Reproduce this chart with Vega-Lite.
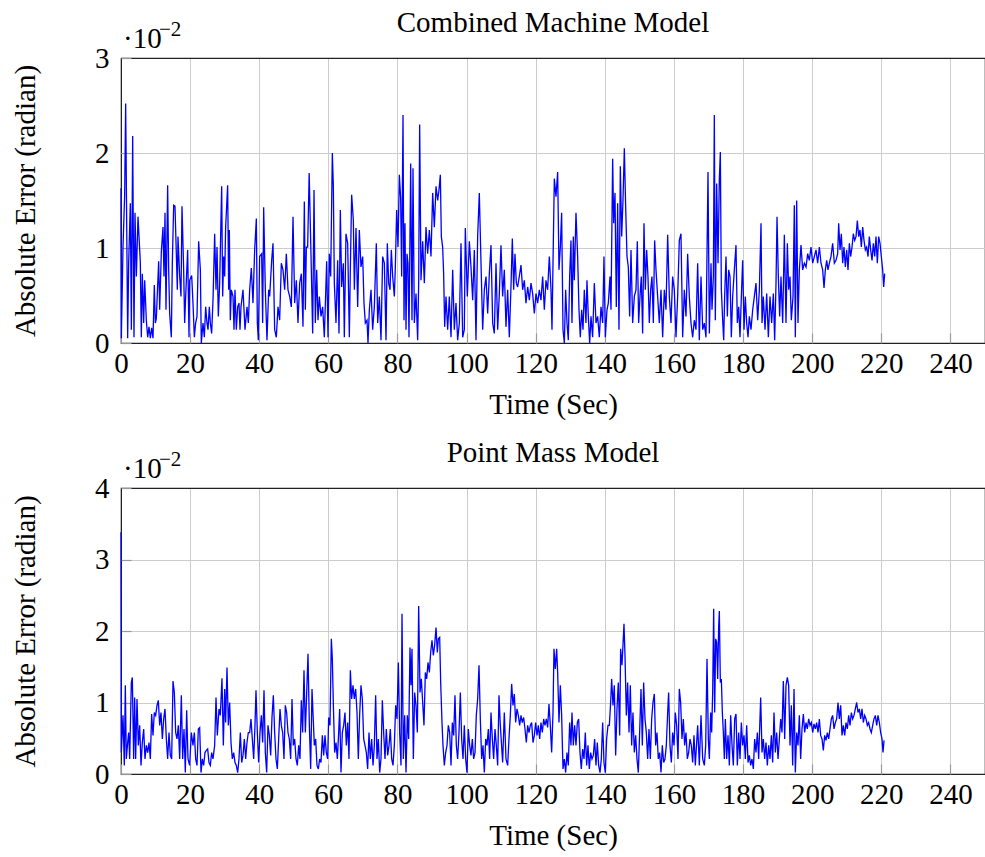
{
"$schema": "https://vega.github.io/schema/vega-lite/v6.json",
"background": "white",
"padding": {"left": 10, "top": 8, "right": 0, "bottom": 0},
"config": {
  "font": "Liberation Serif",
  "view": {"stroke": "#222222", "strokeWidth": 1.2},
  "axis": {"labelFont": "Liberation Serif", "labelFontSize": 29, "labelColor": "#000000", "titleFont": "Liberation Serif", "titleFontSize": 29, "titleFontWeight": "normal", "titleColor": "#000000", "gridWidth": 1, "ticks": true, "tickSize": -10, "tickColor": "#999999", "tickWidth": 1.2, "domain": false, "labelFlush": false, "labelOverlap": false, "format": "d"},
  "title": {"font": "Liberation Serif", "fontSize": 29, "fontWeight": "normal", "color": "#000000", "offset": -19, "frame": "group"},
  "concat": {"spacing": 18}
},
"datasets": {
"combined": [
{"t":0,"e":1.63},{"t":0.1,"e":0.05},{"t":0.58,"e":1.01},{"t":1.06,"e":1.56},{"t":1.35,"e":2.52},{"t":1.93,"e":0.05},{"t":2.22,"e":0.84},{"t":2.7,"e":1.47},{"t":3.0,"e":0.14},{"t":3.38,"e":2.18},{"t":3.76,"e":0.06},{"t":4.05,"e":1.37},{"t":4.44,"e":0.7},{"t":4.92,"e":1.33},{"t":5.59,"e":0.85},{"t":5.88,"e":0.06},{"t":6.17,"e":0.73},{"t":6.56,"e":0.21},{"t":6.85,"e":0.66},{"t":7.33,"e":0.24},{"t":7.72,"e":0.06},{"t":8.1,"e":0.17},{"t":8.49,"e":0.05},{"t":8.87,"e":0.16},{"t":9.26,"e":0.05},{"t":9.64,"e":0.61},{"t":9.93,"e":0.21},{"t":10.22,"e":0.26},{"t":10.9,"e":0.86},{"t":11.19,"e":0.35},{"t":11.67,"e":0.96},{"t":12.15,"e":1.22},{"t":12.44,"e":0.7},{"t":12.73,"e":1.37},{"t":13.02,"e":0.35},{"t":13.5,"e":1.66},{"t":13.79,"e":0.77},{"t":14.08,"e":0.31},{"t":14.56,"e":0.06},{"t":14.85,"e":0.84},{"t":15.24,"e":1.45},{"t":15.62,"e":1.44},{"t":16.01,"e":0.94},{"t":16.3,"e":0.56},{"t":16.49,"e":1.12},{"t":16.98,"e":0.7},{"t":17.36,"e":0.49},{"t":17.65,"e":1.44},{"t":18.13,"e":0.77},{"t":18.42,"e":0.21},{"t":18.71,"e":0.49},{"t":19.29,"e":0.98},{"t":19.68,"e":0.06},{"t":19.87,"e":0.66},{"t":20.45,"e":0.71},{"t":20.83,"e":0.42},{"t":21.22,"e":0.06},{"t":21.6,"e":0.21},{"t":21.99,"e":0.28},{"t":22.47,"e":1.07},{"t":22.96,"e":0.77},{"t":23.24,"e":0},{"t":23.73,"e":0.21},{"t":24.11,"e":0.06},{"t":24.5,"e":0.38},{"t":24.88,"e":0.21},{"t":25.17,"e":0.14},{"t":25.56,"e":0.38},{"t":25.85,"e":0.21},{"t":26.23,"e":0.1},{"t":26.62,"e":0.45},{"t":27.1,"e":1.15},{"t":27.49,"e":0.56},{"t":27.78,"e":1.01},{"t":28.16,"e":0.28},{"t":28.55,"e":0.63},{"t":29.13,"e":1.65},{"t":29.42,"e":0.49},{"t":29.71,"e":0.91},{"t":30.0,"e":0.7},{"t":30.28,"e":1.22},{"t":30.86,"e":1.66},{"t":31.15,"e":0.56},{"t":31.35,"e":1.19},{"t":31.63,"e":0.24},{"t":31.92,"e":0.56},{"t":32.41,"e":0.49},{"t":32.7,"e":0.14},{"t":32.98,"e":0.56},{"t":33.37,"e":0.14},{"t":33.76,"e":0.38},{"t":34.14,"e":0.42},{"t":34.43,"e":0.14},{"t":34.72,"e":0.38},{"t":35.3,"e":0.56},{"t":35.88,"e":0.14},{"t":36.46,"e":0.38},{"t":36.84,"e":0.21},{"t":37.23,"e":0.56},{"t":37.71,"e":0.79},{"t":38.19,"e":0.42},{"t":38.68,"e":0.98},{"t":39.16,"e":1.31},{"t":39.45,"e":0.21},{"t":39.74,"e":0.03},{"t":40.12,"e":0.91},{"t":40.7,"e":0.94},{"t":40.99,"e":0.21},{"t":41.28,"e":1.43},{"t":41.76,"e":0.56},{"t":42.24,"e":0.03},{"t":42.73,"e":0.56},{"t":43.02,"e":0.49},{"t":43.6,"e":0.87},{"t":43.98,"e":1.05},{"t":44.46,"e":0.14},{"t":44.94,"e":0.06},{"t":45.43,"e":0.38},{"t":45.91,"e":0.24},{"t":46.39,"e":0.84},{"t":46.87,"e":0.77},{"t":47.36,"e":0.56},{"t":47.84,"e":0.94},{"t":48.32,"e":0.56},{"t":48.8,"e":0.49},{"t":49.29,"e":0.38},{"t":49.77,"e":1.33},{"t":50.25,"e":0.42},{"t":50.73,"e":0.66},{"t":51.21,"e":0.21},{"t":51.7,"e":0.63},{"t":52.18,"e":0.73},{"t":52.66,"e":0.17},{"t":53.05,"e":1.49},{"t":53.34,"e":0.35},{"t":53.63,"e":1.01},{"t":54.01,"e":1.01},{"t":54.45,"e":1.79},{"t":55.07,"e":0.77},
{"t":55.46,"e":0.1},{"t":55.85,"e":1.61},{"t":56.23,"e":0.21},{"t":56.62,"e":0.77},{"t":57.0,"e":0.24},{"t":57.39,"e":0.49},{"t":57.87,"e":0.28},{"t":58.35,"e":0.38},{"t":58.83,"e":0.06},{"t":59.51,"e":0.86},{"t":59.9,"e":0.06},{"t":60.28,"e":0.94},{"t":60.67,"e":0.7},{"t":61.15,"e":2.0},{"t":61.44,"e":1.65},{"t":61.73,"e":0.63},{"t":62.21,"e":0.21},{"t":62.69,"e":0.87},{"t":63.08,"e":0.1},{"t":63.46,"e":1.4},{"t":63.85,"e":0.59},{"t":64.33,"e":0.84},{"t":64.62,"e":0.06},{"t":65.1,"e":1.15},{"t":65.59,"e":1.05},{"t":66.07,"e":0.06},{"t":66.36,"e":0.77},{"t":66.74,"e":1.56},{"t":67.23,"e":1.29},{"t":67.52,"e":0.56},{"t":68.0,"e":1.21},{"t":68.48,"e":0.38},{"t":68.96,"e":1.19},{"t":69.44,"e":0.8},{"t":69.93,"e":0.91},{"t":70.31,"e":0.42},{"t":70.7,"e":0.21},{"t":71.18,"e":0.24},{"t":71.47,"e":0},{"t":71.86,"e":0.35},{"t":72.34,"e":0.56},{"t":72.82,"e":0.14},{"t":73.3,"e":0.38},{"t":73.88,"e":1.05},{"t":74.27,"e":0.21},{"t":74.75,"e":0.49},{"t":75.23,"e":0.03},{"t":75.71,"e":0.91},{"t":76.2,"e":0.84},{"t":76.68,"e":0.03},{"t":77.06,"e":1.05},{"t":77.45,"e":0.63},{"t":77.84,"e":0.56},{"t":78.22,"e":0.98},{"t":78.61,"e":0.7},{"t":79.09,"e":0.49},{"t":79.38,"e":0.8},{"t":79.76,"e":1.4},{"t":80.15,"e":1.01},{"t":80.54,"e":1.77},{"t":80.92,"e":1.52},{"t":81.21,"e":0.7},{"t":81.6,"e":2.4},{"t":81.89,"e":0.24},{"t":82.17,"e":1.26},{"t":82.47,"e":0.14},{"t":82.75,"e":0.94},{"t":83.04,"e":0.84},{"t":83.33,"e":0.06},{"t":83.82,"e":1.89},{"t":84.2,"e":0.24},{"t":84.49,"e":1.84},{"t":84.88,"e":0.21},{"t":85.36,"e":0.52},{"t":85.84,"e":0.03},{"t":86.13,"e":0.63},{"t":86.42,"e":2.3},{"t":86.8,"e":0.66},{"t":87.29,"e":1.07},{"t":87.77,"e":0.63},{"t":88.25,"e":1.22},{"t":88.73,"e":0.94},{"t":89.22,"e":1.19},{"t":89.7,"e":0.91},{"t":90.18,"e":1.58},{"t":90.66,"e":1.22},{"t":91.15,"e":1.65},{"t":91.63,"e":1.5},{"t":92.01,"e":1.61},{"t":92.4,"e":1.77},{"t":92.69,"e":1.12},{"t":93.07,"e":1.01},{"t":93.36,"e":0.73},{"t":93.65,"e":0.17},{"t":94.04,"e":0.49},{"t":94.52,"e":0.14},{"t":95.0,"e":0.49},{"t":95.49,"e":0.06},{"t":95.97,"e":0.77},{"t":96.45,"e":0.14},{"t":96.93,"e":0.42},{"t":97.41,"e":0.03},{"t":97.9,"e":0.21},{"t":98.38,"e":1.05},{"t":98.86,"e":0.06},{"t":99.34,"e":0.14},{"t":99.63,"e":1.21},{"t":100.21,"e":0.49},{"t":100.79,"e":1.07},{"t":101.27,"e":0.8},{"t":101.76,"e":0.45},{"t":102.24,"e":0.98},{"t":102.72,"e":0.03},{"t":103.2,"e":1.12},{"t":103.68,"e":1.58},{"t":104.17,"e":0.84},{"t":104.65,"e":0.14},{"t":105.13,"e":0.56},{"t":105.61,"e":0.7},{"t":106.1,"e":0.31},{"t":106.58,"e":0.73},{"t":107.06,"e":1.03},{"t":107.54,"e":0.21},{"t":108.02,"e":0.1},{"t":108.51,"e":0.84},{"t":108.99,"e":0.14},{"t":109.47,"e":0.52},{"t":109.95,"e":1.03},
{"t":110.43,"e":0.49},{"t":110.91,"e":0.77},{"t":111.4,"e":0.17},{"t":111.88,"e":0.56},{"t":112.36,"e":0.06},{"t":112.84,"e":0.59},{"t":113.23,"e":1.1},{"t":113.62,"e":0.56},{"t":114.0,"e":0.94},{"t":114.39,"e":0.63},{"t":114.77,"e":0.59},{"t":115.25,"e":0.7},{"t":115.74,"e":0.82},{"t":116.22,"e":0.56},{"t":116.7,"e":0.66},{"t":117.18,"e":0.42},{"t":117.67,"e":0.59},{"t":118.15,"e":0.45},{"t":118.63,"e":0.63},{"t":119.11,"e":0.52},{"t":119.6,"e":0.31},{"t":120.08,"e":0.52},{"t":120.56,"e":0.42},{"t":121.04,"e":0.56},{"t":121.52,"e":0.45},{"t":122.01,"e":0.7},{"t":122.49,"e":0.35},{"t":122.97,"e":0.66},{"t":123.45,"e":0.56},{"t":123.94,"e":0.91},{"t":124.42,"e":0.56},{"t":124.71,"e":0.14},{"t":125.0,"e":0.84},{"t":125.38,"e":1.73},{"t":125.86,"e":1.54},{"t":126.35,"e":1.8},{"t":126.73,"e":0.77},{"t":127.12,"e":1.01},{"t":127.5,"e":1.37},{"t":127.89,"e":0.14},{"t":128.28,"e":0},{"t":128.66,"e":0.56},{"t":129.05,"e":0.21},{"t":129.43,"e":0.03},{"t":129.82,"e":0.7},{"t":130.2,"e":1.08},{"t":130.49,"e":0.21},{"t":130.88,"e":1.12},{"t":131.17,"e":0.66},{"t":131.65,"e":1.37},{"t":132.13,"e":0.91},{"t":132.52,"e":0.35},{"t":132.9,"e":0.06},{"t":133.29,"e":0.35},{"t":133.68,"e":0.14},{"t":134.06,"e":0.56},{"t":134.54,"e":0.21},{"t":134.83,"e":0.66},{"t":135.22,"e":0.28},{"t":135.61,"e":0},{"t":135.99,"e":0.28},{"t":136.47,"e":0.06},{"t":136.96,"e":0.63},{"t":137.44,"e":0.21},{"t":137.92,"e":0.28},{"t":138.4,"e":0.06},{"t":138.89,"e":0.38},{"t":139.37,"e":0.21},{"t":139.75,"e":0.91},{"t":140.14,"e":0.06},{"t":140.62,"e":0.35},{"t":141.01,"e":0.42},{"t":141.49,"e":0.7},{"t":141.78,"e":0.35},{"t":142.26,"e":1.94},{"t":142.55,"e":1.26},{"t":142.94,"e":1.58},{"t":143.32,"e":0.38},{"t":143.71,"e":1.47},{"t":144.09,"e":0.14},{"t":144.48,"e":1.86},{"t":144.87,"e":1.12},{"t":145.25,"e":1.5},{"t":145.64,"e":2.05},{"t":146.02,"e":1.44},{"t":146.41,"e":0.91},{"t":146.79,"e":0.8},{"t":147.18,"e":0.28},{"t":147.57,"e":0.98},{"t":148.05,"e":0.21},{"t":148.53,"e":0.49},{"t":149.01,"e":0.56},{"t":149.4,"e":1.07},{"t":149.78,"e":0.21},{"t":150.17,"e":0.49},{"t":150.55,"e":0.7},{"t":150.94,"e":0.1},{"t":151.33,"e":1.26},{"t":151.71,"e":0.56},{"t":152.1,"e":0.98},{"t":152.48,"e":0.7},{"t":152.87,"e":0.21},{"t":153.26,"e":0.56},{"t":153.64,"e":0.7},{"t":154.03,"e":0.21},{"t":154.41,"e":1.08},{"t":154.8,"e":0.77},{"t":155.28,"e":0.49},{"t":155.76,"e":0.21},{"t":156.25,"e":0.56},{"t":156.73,"e":0.06},{"t":157.21,"e":0.56},{"t":157.69,"e":0.35},{"t":158.18,"e":1.14},{"t":158.66,"e":0.49},{"t":159.14,"e":0.21},{"t":159.62,"e":0.7},{"t":160.1,"e":0.56},{"t":160.59,"e":0.06},{"t":161.07,"e":0.49},{"t":161.55,"e":1.08},{"t":162.03,"e":1.15},{"t":162.52,"e":0.06},{"t":163.0,"e":0.56},{"t":163.48,"e":0.28},{"t":163.96,"e":0.94},{"t":164.44,"e":0.49},{"t":164.93,"e":0.21},{"t":165.41,"e":0.06},{"t":165.89,"e":0.24},{"t":166.37,"e":0.14},
{"t":166.86,"e":0.84},{"t":167.34,"e":0.03},{"t":167.83,"e":0.7},{"t":168.31,"e":0.14},{"t":168.79,"e":0.21},{"t":169.27,"e":0.06},{"t":169.85,"e":1.8},{"t":170.24,"e":0.1},{"t":170.72,"e":0.84},{"t":171.01,"e":0.35},{"t":171.4,"e":0.7},{"t":171.68,"e":2.4},{"t":171.97,"e":0.24},{"t":172.36,"e":1.68},{"t":172.75,"e":0.84},{"t":173.13,"e":1.72},{"t":173.42,"e":2.01},{"t":173.71,"e":0.56},{"t":174.1,"e":0.24},{"t":174.39,"e":0.03},{"t":174.67,"e":0.49},{"t":175.06,"e":0.91},{"t":175.45,"e":0.28},{"t":175.83,"e":0.77},{"t":176.22,"e":0.7},{"t":176.6,"e":0.06},{"t":176.99,"e":0.49},{"t":177.47,"e":0.77},{"t":177.95,"e":1.03},{"t":178.34,"e":0.21},{"t":178.73,"e":0.38},{"t":179.11,"e":0.06},{"t":179.5,"e":0.49},{"t":179.88,"e":0.87},{"t":180.27,"e":0.14},{"t":180.65,"e":0.49},{"t":181.04,"e":0.21},{"t":181.43,"e":0.06},{"t":181.81,"e":0.28},{"t":182.29,"e":0.14},{"t":182.78,"e":0.35},{"t":183.26,"e":0.49},{"t":183.74,"e":0.63},{"t":184.22,"e":0.24},{"t":184.71,"e":0.56},{"t":185.19,"e":1.26},{"t":185.48,"e":0.21},{"t":185.86,"e":0.49},{"t":186.35,"e":0.14},{"t":186.83,"e":0.52},{"t":187.31,"e":0.06},{"t":187.79,"e":0.49},{"t":188.27,"e":0.21},{"t":188.76,"e":0.52},{"t":189.14,"e":0.03},{"t":189.53,"e":0.63},{"t":189.82,"e":1.33},{"t":190.2,"e":0.7},{"t":190.59,"e":0.28},{"t":190.97,"e":0.7},{"t":191.46,"e":0.21},{"t":191.94,"e":1.14},{"t":192.42,"e":0.21},{"t":192.81,"e":1.05},{"t":193.19,"e":0.56},{"t":193.58,"e":0.7},{"t":193.96,"e":0.24},{"t":194.45,"e":0.49},{"t":194.83,"e":1.45},{"t":195.12,"e":0.06},{"t":195.51,"e":1.5},{"t":195.89,"e":0.21},{"t":196.28,"e":0.77},{"t":196.76,"e":1.03},{"t":197.24,"e":0.77},{"t":197.73,"e":0.84},{"t":198.21,"e":0.8},{"t":198.69,"e":0.94},{"t":199.17,"e":0.87},{"t":199.65,"e":1.01},{"t":200.14,"e":0.84},{"t":200.62,"e":0.91},{"t":201.1,"e":0.98},{"t":201.58,"e":0.84},{"t":202.07,"e":1.01},{"t":202.55,"e":0.84},{"t":203.03,"e":0.77},{"t":203.42,"e":0.58},{"t":203.8,"e":0.77},{"t":204.19,"e":0.87},{"t":204.57,"e":0.77},{"t":204.96,"e":0.84},{"t":205.44,"e":0.91},{"t":205.92,"e":1.05},{"t":206.41,"e":0.84},{"t":206.89,"e":0.87},{"t":207.37,"e":0.94},{"t":207.66,"e":1.26},{"t":208.05,"e":0.98},{"t":208.43,"e":1.15},{"t":208.82,"e":0.84},{"t":209.2,"e":1.01},{"t":209.59,"e":0.8},{"t":209.98,"e":0.98},{"t":210.36,"e":0.77},{"t":210.75,"e":1.05},{"t":211.13,"e":0.91},{"t":211.52,"e":1.01},{"t":211.9,"e":1.15},{"t":212.29,"e":1.08},{"t":212.68,"e":1.12},{"t":213.06,"e":1.29},{"t":213.45,"e":1.12},{"t":213.83,"e":1.19},{"t":214.22,"e":1.01},{"t":214.61,"e":1.22},{"t":214.99,"e":1.08},{"t":215.38,"e":0.98},{"t":215.76,"e":1.01},{"t":216.15,"e":0.91},{"t":216.53,"e":1.12},{"t":216.92,"e":0.98},{"t":217.31,"e":0.87},{"t":217.69,"e":1.05},{"t":218.08,"e":0.91},{"t":218.46,"e":1.12},{"t":218.85,"e":0.84},{"t":219.23,"e":1.12},{"t":219.62,"e":1.05},{"t":220.0,"e":0.91},{"t":220.39,"e":0.77},{"t":220.68,"e":0.59},{"t":220.97,"e":0.73}
],
"pointmass": [
{"t":0,"e":3.38},{"t":0.1,"e":0.3},{"t":0.58,"e":0.82},{"t":0.96,"e":0.12},{"t":1.25,"e":1.24},{"t":1.54,"e":0.21},{"t":1.93,"e":0.44},{"t":2.22,"e":0.58},{"t":2.51,"e":0.21},{"t":2.99,"e":1.28},{"t":3.28,"e":1.35},{"t":3.66,"e":0.21},{"t":3.95,"e":1.07},{"t":4.24,"e":0.21},{"t":4.63,"e":1.05},{"t":5.02,"e":0.4},{"t":5.4,"e":0.68},{"t":5.79,"e":0.12},{"t":6.17,"e":0.44},{"t":6.56,"e":0.63},{"t":6.94,"e":0.21},{"t":7.33,"e":0.4},{"t":7.72,"e":0.3},{"t":8.1,"e":0.44},{"t":8.49,"e":0.21},{"t":8.87,"e":0.84},{"t":9.26,"e":0.54},{"t":9.64,"e":0.86},{"t":10.03,"e":0.82},{"t":10.42,"e":0.96},{"t":10.8,"e":1.03},{"t":11.19,"e":0.68},{"t":11.57,"e":0.86},{"t":11.96,"e":0.49},{"t":12.35,"e":0.77},{"t":12.73,"e":0.91},{"t":13.12,"e":0.49},{"t":13.5,"e":0.21},{"t":13.89,"e":0.58},{"t":14.27,"e":0.26},{"t":14.66,"e":0.21},{"t":15.05,"e":1.3},{"t":15.43,"e":1.14},{"t":15.82,"e":0.58},{"t":16.2,"e":0.49},{"t":16.59,"e":0.68},{"t":16.98,"e":0.21},{"t":17.46,"e":1.1},{"t":17.84,"e":0.21},{"t":18.23,"e":0.63},{"t":18.61,"e":0.02},{"t":19.0,"e":0.89},{"t":19.39,"e":0.21},{"t":19.87,"e":0.12},{"t":20.35,"e":0.58},{"t":20.83,"e":0.4},{"t":21.22,"e":0.58},{"t":21.6,"e":0.21},{"t":21.99,"e":0.12},{"t":22.38,"e":0.63},{"t":22.76,"e":0.65},{"t":23.15,"e":0.02},{"t":23.53,"e":0.21},{"t":23.92,"e":0.12},{"t":24.31,"e":0.3},{"t":24.69,"e":0.33},{"t":25.08,"e":0.35},{"t":25.46,"e":0.16},{"t":25.85,"e":0.12},{"t":26.23,"e":0.3},{"t":26.62,"e":0.21},{"t":27.1,"e":0.4},{"t":27.49,"e":1.07},{"t":27.87,"e":0.54},{"t":28.36,"e":0.91},{"t":28.74,"e":0.82},{"t":29.22,"e":1.34},{"t":29.61,"e":0.4},{"t":30.0,"e":1.19},{"t":30.28,"e":0.72},{"t":30.67,"e":1.49},{"t":31.06,"e":0.68},{"t":31.44,"e":1.0},{"t":31.83,"e":0.44},{"t":32.21,"e":0.21},{"t":32.6,"e":0.3},{"t":32.99,"e":0.16},{"t":33.37,"e":0.12},{"t":33.76,"e":0.02},{"t":34.14,"e":0.21},{"t":34.53,"e":0.58},{"t":34.92,"e":0.16},{"t":35.3,"e":0.26},{"t":35.69,"e":0.49},{"t":36.07,"e":0.21},{"t":36.46,"e":0.44},{"t":36.84,"e":0.58},{"t":37.23,"e":0.58},{"t":37.61,"e":0.77},{"t":38.0,"e":0.49},{"t":38.39,"e":0.21},{"t":38.77,"e":0.68},{"t":39.06,"e":1.17},{"t":39.45,"e":0.58},{"t":39.83,"e":0.16},{"t":40.22,"e":0.58},{"t":40.61,"e":0.82},{"t":40.99,"e":0.44},{"t":41.38,"e":1.17},{"t":41.76,"e":0.3},{"t":42.15,"e":0.02},{"t":42.53,"e":0.68},{"t":42.92,"e":0.54},{"t":43.31,"e":0.26},{"t":43.69,"e":0.79},{"t":44.08,"e":1.1},{"t":44.46,"e":0.58},{"t":44.85,"e":0.21},{"t":45.24,"e":0.07},{"t":45.62,"e":0.49},{"t":46.01,"e":0.91},{"t":46.39,"e":0.68},{"t":46.78,"e":0.58},{"t":47.16,"e":0.21},{"t":47.55,"e":0.96},{"t":47.93,"e":0.86},{"t":48.32,"e":0.58},{"t":48.71,"e":0.49},{"t":49.09,"e":0.21},{"t":49.48,"e":1.05},{"t":49.86,"e":0.4},{"t":50.25,"e":0.49},{"t":50.64,"e":0.21},{"t":51.02,"e":0.12},{"t":51.41,"e":0.4},{"t":51.79,"e":0.21},{"t":52.18,"e":1.03},{"t":52.56,"e":0.58},{"t":52.95,"e":1.45},{"t":53.34,"e":0.58},{"t":53.72,"e":1.12},{"t":54.11,"e":1.68},{"t":54.5,"e":0.68},{"t":54.88,"e":0.07},{"t":55.27,"e":1.19},
{"t":55.94,"e":0.4},{"t":56.33,"e":0.49},{"t":56.71,"e":0.12},{"t":57.1,"e":0.07},{"t":57.48,"e":0.21},{"t":57.87,"e":0.16},{"t":58.26,"e":0.54},{"t":58.64,"e":0.26},{"t":59.03,"e":0.54},{"t":59.41,"e":0.3},{"t":59.8,"e":0.21},{"t":60.09,"e":0.79},{"t":60.47,"e":0.68},{"t":60.86,"e":1.89},{"t":61.15,"e":1.61},{"t":61.44,"e":0.98},{"t":61.82,"e":0.3},{"t":62.21,"e":0.44},{"t":62.6,"e":0.21},{"t":62.98,"e":0.58},{"t":63.27,"e":0.91},{"t":63.66,"e":0.02},{"t":64.04,"e":0.58},{"t":64.43,"e":0.68},{"t":64.81,"e":0.86},{"t":65.2,"e":0.4},{"t":65.59,"e":0.72},{"t":65.97,"e":0.21},{"t":66.36,"e":1.45},{"t":66.74,"e":1.05},{"t":67.13,"e":1.24},{"t":67.51,"e":1.05},{"t":67.9,"e":1.19},{"t":68.29,"e":0.86},{"t":68.67,"e":0.21},{"t":69.06,"e":0.84},{"t":69.44,"e":1.24},{"t":69.83,"e":1.05},{"t":70.22,"e":0.49},{"t":70.6,"e":0.4},{"t":70.99,"e":0.3},{"t":71.37,"e":0.07},{"t":71.76,"e":0.58},{"t":72.14,"e":0.21},{"t":72.53,"e":0.49},{"t":72.92,"e":0.12},{"t":73.3,"e":0.4},{"t":73.69,"e":1.1},{"t":74.07,"e":0.21},{"t":74.46,"e":0.49},{"t":74.85,"e":0.02},{"t":75.23,"e":0.21},{"t":75.62,"e":1.03},{"t":76.0,"e":0.58},{"t":76.39,"e":0.21},{"t":76.77,"e":0.63},{"t":77.16,"e":0.26},{"t":77.55,"e":0.4},{"t":77.93,"e":0.63},{"t":78.32,"e":0.21},{"t":78.7,"e":0.12},{"t":79.09,"e":0.4},{"t":79.48,"e":0.96},{"t":79.86,"e":0.77},{"t":80.25,"e":1.56},{"t":80.63,"e":0.58},{"t":81.02,"e":0.12},{"t":81.31,"e":2.24},{"t":81.69,"e":0.21},{"t":82.08,"e":0.82},{"t":82.47,"e":0.02},{"t":82.85,"e":0.82},{"t":83.24,"e":0.49},{"t":83.62,"e":1.77},{"t":83.91,"e":1.24},{"t":84.2,"e":1.75},{"t":84.59,"e":0.21},{"t":84.97,"e":1.14},{"t":85.36,"e":0.96},{"t":85.75,"e":0.58},{"t":86.13,"e":2.35},{"t":86.52,"e":1.14},{"t":86.9,"e":1.33},{"t":87.29,"e":1.0},{"t":87.67,"e":0.68},{"t":88.06,"e":1.42},{"t":88.45,"e":1.33},{"t":88.83,"e":1.56},{"t":89.22,"e":1.42},{"t":89.6,"e":1.7},{"t":89.99,"e":1.87},{"t":90.37,"e":1.66},{"t":90.76,"e":1.8},{"t":91.15,"e":2.05},{"t":91.53,"e":1.7},{"t":91.82,"e":1.89},{"t":92.21,"e":1.91},{"t":92.5,"e":1.28},{"t":92.88,"e":0.72},{"t":93.17,"e":0.4},{"t":93.56,"e":0.12},{"t":93.94,"e":0.3},{"t":94.33,"e":0.4},{"t":94.71,"e":0.68},{"t":95.1,"e":0.58},{"t":95.49,"e":0.12},{"t":95.87,"e":0.72},{"t":96.26,"e":0.54},{"t":96.64,"e":1.1},{"t":97.03,"e":0.4},{"t":97.41,"e":0.21},{"t":97.8,"e":0.58},{"t":98.19,"e":1.14},{"t":98.57,"e":0.49},{"t":98.96,"e":0.21},{"t":99.34,"e":0.68},{"t":99.73,"e":0.21},{"t":100.11,"e":0.02},{"t":100.5,"e":0.63},{"t":100.89,"e":0.4},{"t":101.27,"e":0.26},{"t":101.66,"e":0.49},{"t":102.04,"e":0.21},{"t":102.43,"e":0.3},{"t":102.81,"e":0.82},{"t":103.2,"e":1.05},{"t":103.59,"e":1.52},{"t":103.97,"e":0.77},{"t":104.36,"e":0.21},{"t":104.74,"e":0.4},{"t":105.13,"e":0.02},{"t":105.52,"e":0.49},{"t":105.9,"e":0.4},{"t":106.29,"e":0.63},{"t":106.67,"e":0.21},{"t":107.06,"e":0.86},{"t":107.45,"e":0.49},{"t":107.83,"e":0.21},{"t":108.22,"e":0.63},{"t":108.6,"e":0.4},{"t":108.99,"e":0.12},{"t":109.37,"e":1.1},{"t":109.76,"e":0.68},
{"t":110.43,"e":0.16},{"t":110.91,"e":0.86},{"t":111.4,"e":0.21},{"t":111.88,"e":0.12},{"t":112.26,"e":0.49},{"t":112.65,"e":0.82},{"t":113.04,"e":1.26},{"t":113.42,"e":0.96},{"t":113.81,"e":1.12},{"t":114.19,"e":0.72},{"t":114.58,"e":0.91},{"t":114.97,"e":0.82},{"t":115.35,"e":0.68},{"t":115.74,"e":0.82},{"t":116.12,"e":0.72},{"t":116.51,"e":0.79},{"t":116.89,"e":0.63},{"t":117.28,"e":0.44},{"t":117.67,"e":0.68},{"t":118.05,"e":0.58},{"t":118.44,"e":0.68},{"t":118.82,"e":0.72},{"t":119.21,"e":0.44},{"t":119.6,"e":0.54},{"t":119.98,"e":0.72},{"t":120.37,"e":0.54},{"t":120.75,"e":0.68},{"t":121.14,"e":0.49},{"t":121.52,"e":0.72},{"t":121.91,"e":0.58},{"t":122.3,"e":0.77},{"t":122.68,"e":0.68},{"t":123.07,"e":0.77},{"t":123.45,"e":0.65},{"t":123.84,"e":0.98},{"t":124.22,"e":0.68},{"t":124.61,"e":0.3},{"t":125.0,"e":0.86},{"t":125.28,"e":1.75},{"t":125.67,"e":1.47},{"t":126.06,"e":1.75},{"t":126.35,"e":1.42},{"t":126.73,"e":0.72},{"t":127.12,"e":1.24},{"t":127.5,"e":0.82},{"t":127.89,"e":0.07},{"t":128.28,"e":0.21},{"t":128.66,"e":0.02},{"t":129.05,"e":0.3},{"t":129.43,"e":0.12},{"t":129.82,"e":0.72},{"t":130.2,"e":0.4},{"t":130.49,"e":0.86},{"t":130.88,"e":0.4},{"t":131.27,"e":0.68},{"t":131.65,"e":0.4},{"t":132.04,"e":0.72},{"t":132.42,"e":0.77},{"t":132.81,"e":0.3},{"t":133.19,"e":0.07},{"t":133.58,"e":0.35},{"t":133.97,"e":0.21},{"t":134.35,"e":0.58},{"t":134.74,"e":0.12},{"t":135.12,"e":0.4},{"t":135.51,"e":0.07},{"t":135.89,"e":0.3},{"t":136.28,"e":0.21},{"t":136.67,"e":0.26},{"t":137.05,"e":0.49},{"t":137.44,"e":0.12},{"t":137.82,"e":0.44},{"t":138.21,"e":0.12},{"t":138.6,"e":0.02},{"t":138.98,"e":0.21},{"t":139.37,"e":0.72},{"t":139.75,"e":0.16},{"t":140.14,"e":0.02},{"t":140.52,"e":0.49},{"t":140.91,"e":0.68},{"t":141.3,"e":0.68},{"t":141.68,"e":1.0},{"t":141.97,"e":1.33},{"t":142.36,"e":0.96},{"t":142.74,"e":1.24},{"t":143.13,"e":0.26},{"t":143.51,"e":0.91},{"t":143.9,"e":1.28},{"t":144.29,"e":0.54},{"t":144.57,"e":1.75},{"t":144.96,"e":1.52},{"t":145.25,"e":1.8},{"t":145.54,"e":2.1},{"t":145.83,"e":1.66},{"t":146.22,"e":0.82},{"t":146.6,"e":1.28},{"t":146.99,"e":0.58},{"t":147.37,"e":1.24},{"t":147.76,"e":0.4},{"t":148.14,"e":0.86},{"t":148.53,"e":0.3},{"t":148.92,"e":0.54},{"t":149.3,"e":0.21},{"t":149.69,"e":0.02},{"t":150.07,"e":0.58},{"t":150.46,"e":1.19},{"t":150.85,"e":0.4},{"t":151.23,"e":1.28},{"t":151.62,"e":0.77},{"t":152.0,"e":0.58},{"t":152.39,"e":0.21},{"t":152.77,"e":0.63},{"t":153.16,"e":0.21},{"t":153.55,"e":0.77},{"t":153.93,"e":1.0},{"t":154.32,"e":1.12},{"t":154.7,"e":0.4},{"t":155.09,"e":0.58},{"t":155.47,"e":0.21},{"t":155.86,"e":0.3},{"t":156.25,"e":0.02},{"t":156.63,"e":0.4},{"t":157.02,"e":0.16},{"t":157.4,"e":0.21},{"t":157.79,"e":0.4},{"t":158.18,"e":0.86},{"t":158.46,"e":1.14},{"t":158.85,"e":0.4},{"t":159.24,"e":0.16},{"t":159.62,"e":0.58},{"t":160.01,"e":0.4},{"t":160.39,"e":0.86},{"t":160.78,"e":0.68},{"t":161.17,"e":0.21},{"t":161.55,"e":1.19},{"t":161.94,"e":1.0},{"t":162.32,"e":0.49},{"t":162.71,"e":0.77},{"t":163.09,"e":0.4},{"t":163.48,"e":0.58},{"t":163.87,"e":0.21},{"t":164.25,"e":0.3},{"t":164.64,"e":0.49},{"t":165.02,"e":0.4},{"t":165.41,"e":0.16},{"t":165.79,"e":0.54},{"t":166.18,"e":0.12},
{"t":166.86,"e":0.68},{"t":167.34,"e":0.12},{"t":167.83,"e":0.82},{"t":168.31,"e":0.21},{"t":168.79,"e":0.12},{"t":169.18,"e":0.4},{"t":169.56,"e":1.61},{"t":169.95,"e":0.49},{"t":170.24,"e":0.21},{"t":170.62,"e":0.86},{"t":170.91,"e":0.58},{"t":171.2,"e":1.14},{"t":171.49,"e":2.31},{"t":171.78,"e":0.86},{"t":172.07,"e":1.89},{"t":172.36,"e":1.84},{"t":172.65,"e":1.33},{"t":172.94,"e":2.07},{"t":173.13,"e":2.28},{"t":173.42,"e":1.28},{"t":173.71,"e":1.33},{"t":174.0,"e":0.86},{"t":174.29,"e":0.58},{"t":174.58,"e":0.21},{"t":174.87,"e":0.77},{"t":175.25,"e":0.21},{"t":175.64,"e":0.54},{"t":176.03,"e":0.12},{"t":176.41,"e":0.82},{"t":176.8,"e":0.4},{"t":177.18,"e":0.12},{"t":177.57,"e":0.77},{"t":177.95,"e":0.84},{"t":178.34,"e":0.12},{"t":178.73,"e":0.58},{"t":179.11,"e":0.21},{"t":179.5,"e":0.72},{"t":179.88,"e":0.4},{"t":180.27,"e":0.54},{"t":180.65,"e":0.21},{"t":181.04,"e":0.68},{"t":181.43,"e":0.16},{"t":181.81,"e":0.26},{"t":182.2,"e":0.12},{"t":182.58,"e":0.21},{"t":182.97,"e":0.07},{"t":183.35,"e":0.49},{"t":183.74,"e":0.3},{"t":184.13,"e":0.58},{"t":184.51,"e":0.21},{"t":185.09,"e":1.07},{"t":185.48,"e":0.3},{"t":185.86,"e":0.49},{"t":186.25,"e":0.21},{"t":186.63,"e":0.44},{"t":187.02,"e":0.12},{"t":187.41,"e":0.4},{"t":187.79,"e":0.21},{"t":188.18,"e":0.54},{"t":188.56,"e":0.16},{"t":188.95,"e":0.86},{"t":189.33,"e":0.3},{"t":189.72,"e":0.58},{"t":190.11,"e":0.21},{"t":190.49,"e":0.49},{"t":190.88,"e":0.77},{"t":191.26,"e":0.58},{"t":191.65,"e":1.3},{"t":192.04,"e":0.49},{"t":192.42,"e":1.24},{"t":192.81,"e":1.35},{"t":193.19,"e":1.24},{"t":193.58,"e":0.4},{"t":193.96,"e":0.96},{"t":194.35,"e":0.12},{"t":194.74,"e":1.19},{"t":195.12,"e":0.02},{"t":195.51,"e":0.58},{"t":195.89,"e":0.4},{"t":196.28,"e":0.82},{"t":196.66,"e":0.21},{"t":197.05,"e":0.63},{"t":197.44,"e":0.84},{"t":197.82,"e":0.58},{"t":198.21,"e":0.72},{"t":198.59,"e":0.63},{"t":198.98,"e":0.77},{"t":199.37,"e":0.68},{"t":199.75,"e":0.72},{"t":200.14,"e":0.58},{"t":200.52,"e":0.7},{"t":200.91,"e":0.63},{"t":201.29,"e":0.72},{"t":201.68,"e":0.58},{"t":202.07,"e":0.77},{"t":202.45,"e":0.54},{"t":202.84,"e":0.49},{"t":203.22,"e":0.33},{"t":203.61,"e":0.54},{"t":203.99,"e":0.47},{"t":204.38,"e":0.58},{"t":204.77,"e":0.49},{"t":205.15,"e":0.63},{"t":205.54,"e":0.77},{"t":205.92,"e":0.82},{"t":206.31,"e":0.63},{"t":206.7,"e":0.72},{"t":207.08,"e":0.77},{"t":207.47,"e":1.0},{"t":207.85,"e":0.77},{"t":208.24,"e":0.96},{"t":208.62,"e":0.54},{"t":209.01,"e":0.68},{"t":209.4,"e":0.54},{"t":209.78,"e":0.72},{"t":210.17,"e":0.63},{"t":210.55,"e":0.82},{"t":210.94,"e":0.68},{"t":211.33,"e":0.86},{"t":211.71,"e":0.77},{"t":212.1,"e":0.82},{"t":212.48,"e":0.91},{"t":212.87,"e":1.0},{"t":213.25,"e":0.86},{"t":213.64,"e":0.91},{"t":214.03,"e":0.77},{"t":214.41,"e":0.91},{"t":214.8,"e":0.72},{"t":215.18,"e":0.82},{"t":215.57,"e":0.77},{"t":215.96,"e":0.68},{"t":216.34,"e":0.72},{"t":216.73,"e":0.63},{"t":217.11,"e":0.58},{"t":217.5,"e":0.68},{"t":217.88,"e":0.77},{"t":218.27,"e":0.82},{"t":218.66,"e":0.68},{"t":219.04,"e":0.82},{"t":219.43,"e":0.72},{"t":219.81,"e":0.58},{"t":220.2,"e":0.49},{"t":220.49,"e":0.3},{"t":220.78,"e":0.47}
]
},
"vconcat": [
{
  "width": 864, "height": 285,
  "title": {"text": "Combined Machine Model"},
  "view": {"stroke": "#222222", "strokeWidth": 1.2},
  "layer": [
    {
      "data": {"name": "combined"},
      "mark": {"type": "line", "color": "#0000ff", "strokeWidth": 1.3},
      "encoding": {
        "x": {"field": "t", "type": "quantitative", "scale": {"domain": [0, 250], "nice": false, "zero": false}, "axis": {"values": [0,20,40,60,80,100,120,140,160,180,200,220,240], "title": "Time (Sec)", "labelPadding": 16, "titlePadding": 12, "gridColor": {"condition": {"test": "datum.value === 0", "value": "#222222"}, "value": "#cccccc"}}},
        "y": {"field": "e", "type": "quantitative", "scale": {"domain": [0, 3], "nice": false}, "axis": {"values": [0,1,2,3], "title": "Absolute Error (radian)", "labelPadding": 22, "titlePadding": 54, "gridColor": {"condition": {"test": "datum.value === 0 || datum.value === 3", "value": "#222222"}, "value": "#cccccc"}}}
      }
    },
    {
      "data": {"values": [{"label": "·10"}]},
      "mark": {"type": "text", "align": "left", "baseline": "alphabetic", "dx": 2, "dy": -10, "fontSize": 29, "font": "Liberation Serif", "color": "#000000"},
      "encoding": {"x": {"datum": 0}, "y": {"datum": 3}, "text": {"field": "label"}}
    },
    {
      "data": {"values": [{"label": "−2"}]},
      "mark": {"type": "text", "align": "left", "baseline": "alphabetic", "dx": 38, "dy": -22, "fontSize": 21, "font": "Liberation Serif", "color": "#000000"},
      "encoding": {"x": {"datum": 0}, "y": {"datum": 3}, "text": {"field": "label"}}
    }
  ]
},
{
  "width": 864, "height": 286,
  "title": {"text": "Point Mass Model"},
  "view": {"stroke": "#222222", "strokeWidth": 1.2},
  "layer": [
    {
      "data": {"name": "pointmass"},
      "mark": {"type": "line", "color": "#0000ff", "strokeWidth": 1.3},
      "encoding": {
        "x": {"field": "t", "type": "quantitative", "scale": {"domain": [0, 250], "nice": false, "zero": false}, "axis": {"values": [0,20,40,60,80,100,120,140,160,180,200,220,240], "title": "Time (Sec)", "labelPadding": 16, "titlePadding": 12, "gridColor": {"condition": {"test": "datum.value === 0", "value": "#222222"}, "value": "#cccccc"}}},
        "y": {"field": "e", "type": "quantitative", "scale": {"domain": [0, 4], "nice": false}, "axis": {"values": [0,1,2,3,4], "title": "Absolute Error (radian)", "labelPadding": 22, "titlePadding": 54, "gridColor": {"condition": {"test": "datum.value === 0 || datum.value === 4", "value": "#222222"}, "value": "#cccccc"}}}
      }
    },
    {
      "data": {"values": [{"label": "·10"}]},
      "mark": {"type": "text", "align": "left", "baseline": "alphabetic", "dx": 2, "dy": -10, "fontSize": 29, "font": "Liberation Serif", "color": "#000000"},
      "encoding": {"x": {"datum": 0}, "y": {"datum": 4}, "text": {"field": "label"}}
    },
    {
      "data": {"values": [{"label": "−2"}]},
      "mark": {"type": "text", "align": "left", "baseline": "alphabetic", "dx": 38, "dy": -22, "fontSize": 21, "font": "Liberation Serif", "color": "#000000"},
      "encoding": {"x": {"datum": 0}, "y": {"datum": 4}, "text": {"field": "label"}}
    }
  ]
}
]
}
